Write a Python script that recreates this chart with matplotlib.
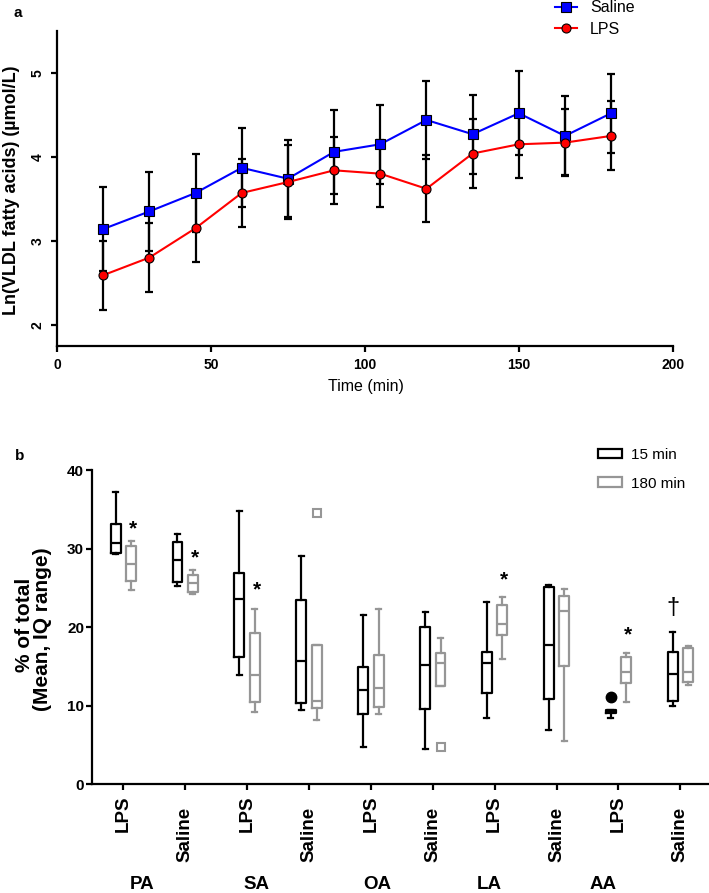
import matplotlib
matplotlib.use("Agg")
import matplotlib.pyplot as plt
from matplotlib.patches import Patch
import matplotlib.transforms as mtransforms

plt.rcParams['font.family'] = ['Liberation Sans', 'DejaVu Sans']

# ---------------- Panel a data ----------------
time_min = [15, 30, 45, 60, 75, 90, 105, 120, 135, 150, 165, 180]
saline_mean = [3.14, 3.35, 3.57, 3.87, 3.74, 4.06, 4.15, 4.44, 4.27, 4.52, 4.25, 4.52]
saline_sd = [0.50, 0.47, 0.46, 0.47, 0.46, 0.50, 0.47, 0.47, 0.47, 0.50, 0.47, 0.47]
lps_mean = [2.59, 2.80, 3.15, 3.57, 3.70, 3.84, 3.80, 3.62, 4.04, 4.15, 4.17, 4.25]
lps_sd = [0.41, 0.41, 0.40, 0.40, 0.44, 0.40, 0.40, 0.40, 0.41, 0.40, 0.40, 0.41]

# ---------------- Panel b data ----------------
categories = ['LPS', 'Saline', 'LPS', 'Saline', 'LPS', 'Saline', 'LPS', 'Saline', 'LPS', 'Saline']
groups = ['PA', 'SA', 'OA', 'LA', 'AA']
group_label_x = [0.30, 2.15, 4.11, 5.92, 7.75]

b15_whislo = [29.3, 25.2, 13.9, 9.45, 4.8, 4.5, 8.4, 6.9, 8.4, 9.95]
b15_q1 = [29.5, 25.7, 16.2, 10.3, 8.9, 9.6, 11.6, 10.8, 9.1, 10.65]
b15_med = [30.75, 28.6, 23.6, 15.7, 12.0, 15.2, 15.5, 17.7, 9.3, 14.1]
b15_q3 = [33.15, 30.9, 26.9, 23.4, 14.9, 20.05, 16.9, 25.05, 9.45, 16.9]
b15_whishi = [37.15, 31.85, 34.8, 29.0, 21.6, 21.9, 23.2, 25.35, 9.45, 19.35]
b15_fliers = [[], [], [], [], [], [], [], [], [11.1], []]

b180_whislo = [24.7, 24.2, 9.15, 8.2, 9.0, 12.55, 16.0, 5.55, 10.5, 12.6]
b180_q1 = [25.85, 24.5, 10.5, 9.65, 9.8, 12.55, 19.0, 15.05, 12.95, 13.05]
b180_med = [28.1, 25.65, 13.9, 10.55, 12.2, 15.4, 20.4, 22.1, 14.25, 14.35]
b180_q3 = [30.35, 26.6, 19.3, 17.7, 16.5, 16.65, 22.8, 23.95, 16.25, 17.3]
b180_whishi = [31.0, 27.25, 22.3, 17.7, 22.25, 18.65, 23.8, 24.8, 16.75, 17.6]
b180_fliers = [[], [], [], [34.5], [], [4.8], [], [], [], []]

# significance marks: (category index, which box, symbol, y level)
sig_index = [0, 1, 2, 6, 8, 9]
sig_box = ['180', '180', '180', '180', '180', '15']
sig_symbol = ['*', '*', '*', '*', '*', '\u2020']
sig_y = [32.8, 29.2, 25.1, 26.4, 19.4, 22.6]

W, H = 709, 893
fig = plt.figure(figsize=(W / 100, H / 100), dpi=100)

def fx(px):
    return px / W

def fy(py):
    return 1 - py / H

# ---------------- Panel a ----------------
axa = fig.add_axes([fx(57), fy(345.7), (672.7 - 57) / W, (345.7 - 31) / H])
axa.errorbar(time_min, saline_mean, yerr=saline_sd, fmt='none', ecolor='black',
             elinewidth=1.6, capsize=3, capthick=1.6, zorder=2)
axa.errorbar(time_min, lps_mean, yerr=lps_sd, fmt='none', ecolor='black',
             elinewidth=1.6, capsize=3, capthick=1.6, zorder=2)
axa.plot(time_min, saline_mean, color='#0000ff', lw=1.5, marker='s', ms=6.5,
         mfc='#0000ff', mec='black', mew=0.8, zorder=3, label='Saline')
axa.plot(time_min, lps_mean, color='#ff0000', lw=1.5, marker='o', ms=6.5,
         mfc='#ff0000', mec='black', mew=0.8, zorder=3, label='LPS')
axa.set_xlim(0, 200)
axa.set_ylim(1.75, 5.5)
axa.set_xticks([0, 50, 100, 150, 200])
axa.set_yticks([2, 3, 4, 5])
for s in ['top', 'right']:
    axa.spines[s].set_visible(False)
for s in ['left', 'bottom']:
    axa.spines[s].set_linewidth(1.6)
axa.tick_params(axis='both', direction='out', width=1.6, length=4, labelsize=10)
axa.tick_params(axis='x', pad=5)
axa.tick_params(axis='y', labelrotation=90, pad=5)
for lab in axa.get_xticklabels() + axa.get_yticklabels():
    lab.set_fontweight('bold')
for lab in axa.get_yticklabels():
    lab.set_va('center')

fig.text(fx(11.5), fy(190), 'Ln(VLDL fatty acids) (\u00b5mol/L)', rotation=90,
         ha='center', va='center', fontsize=13, fontweight='bold')
fig.text(fx(366), fy(386.7), 'Time (min)', ha='center', va='center', fontsize=11.5)
fig.text(fx(18), fy(13), 'a', ha='center', va='center', fontsize=11, fontweight='bold')

axa.legend(loc='upper left', bbox_to_anchor=(fx(555), fy(0.5)),
           bbox_transform=fig.transFigure, frameon=False, fontsize=11.5,
           handlelength=1.4, handletextpad=0.8, labelspacing=0.4,
           borderpad=0, borderaxespad=0)

# ---------------- Panel b ----------------
x_unit = 61.9
x0_px = 123.3
left_px = x0_px - 0.5 * x_unit
right_px = x0_px + 9.5 * x_unit
axb = fig.add_axes([fx(left_px), fy(784.3), (right_px - left_px) / W, (784.3 - 470) / H])

def make_stats(wl, q1, med, q3, wh, fl):
    return [dict(whislo=a, q1=b, med=c, q3=d, whishi=e, fliers=f)
            for a, b, c, d, e, f in zip(wl, q1, med, q3, wh, fl)]

stats15 = make_stats(b15_whislo, b15_q1, b15_med, b15_q3, b15_whishi, b15_fliers)
stats180 = make_stats(b180_whislo, b180_q1, b180_med, b180_q3, b180_whishi, b180_fliers)
n = len(categories)
offset = 0.125
bw = 0.16
grey = '#969696'

pos15 = [i - offset for i in range(n)]
pos180 = [i + offset for i in range(n)]

def draw(stats, pos, col, flier):
    axb.bxp(stats, positions=pos, widths=bw, capwidths=0.08, showfliers=True,
            boxprops=dict(color=col, lw=1.6),
            whiskerprops=dict(color=col, lw=1.6),
            capprops=dict(color=col, lw=1.6),
            medianprops=dict(color=col, lw=1.6),
            flierprops=flier, manage_ticks=False)

draw(stats15, pos15, 'black', dict(marker='o', ms=7.5, mfc='black', mec='black'))
draw(stats180, pos180, grey, dict(marker='s', ms=6, mfc='white', mec=grey, mew=1.5))

for idx, which, sym, yv in zip(sig_index, sig_box, sig_symbol, sig_y):
    if which == '180':
        axb.text(idx + offset + 0.03, yv - 0.35, sym, ha='center', va='center',
                 fontsize=15, fontweight='bold')
    else:
        axb.text(idx - offset, yv - 0.2, sym, ha='center', va='center', fontsize=17)

axb.set_xlim(-0.5, 9.5)
axb.set_ylim(0, 40)
axb.set_yticks([0, 10, 20, 30, 40])
axb.set_xticks(range(n))
axb.set_xticklabels(categories, rotation=90)
for s in ['top', 'right']:
    axb.spines[s].set_visible(False)
for s in ['left', 'bottom']:
    axb.spines[s].set_linewidth(1.6)
axb.tick_params(axis='both', direction='out', width=1.6, length=4)
axb.tick_params(axis='y', labelsize=11, pad=2)
axb.tick_params(axis='x', labelsize=13.5)
for lab in axb.get_xticklabels() + axb.get_yticklabels():
    lab.set_fontweight('bold')
for i, tick in enumerate(axb.xaxis.get_major_ticks()):
    tick.set_pad(4 if categories[i] == 'LPS' else 12.5)

blend = mtransforms.blended_transform_factory(axb.transData, fig.transFigure)
for gx, g in zip(group_label_x, groups):
    axb.text(gx, fy(889), g, transform=blend, ha='center', va='baseline',
             fontsize=13.5, fontweight='bold', clip_on=False)

fig.text(fx(24), fy(625), '% of total', rotation=90, ha='center', va='center',
         fontsize=15, fontweight='bold')
fig.text(fx(43), fy(629), '(Mean, IQ range)', rotation=90, ha='center', va='center',
         fontsize=15, fontweight='bold')
fig.text(fx(20), fy(456), 'b', ha='center', va='center', fontsize=11, fontweight='bold')

handles = [Patch(facecolor='white', edgecolor='black', lw=1.6, label='15 min'),
           Patch(facecolor='white', edgecolor=grey, lw=1.6, label='180 min')]
axb.legend(handles=handles, loc='upper left', bbox_to_anchor=(fx(598.3), fy(448)),
           bbox_transform=fig.transFigure, frameon=False, fontsize=11,
           handlelength=1.55, handleheight=0.6, handletextpad=0.6, labelspacing=0.95,
           borderpad=0, borderaxespad=0)

fig.savefig('out.png', dpi=100)
